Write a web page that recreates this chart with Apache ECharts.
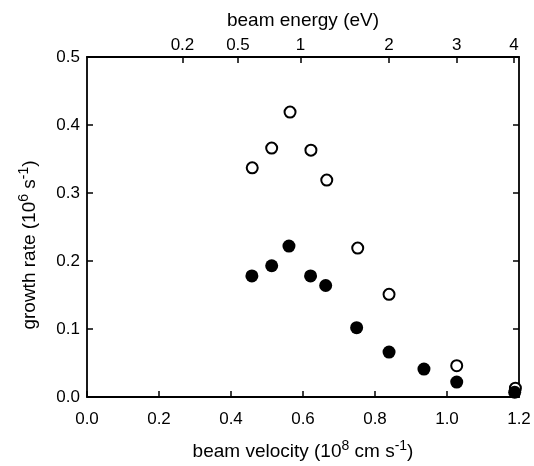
<!DOCTYPE html>
<html>
<head>
<meta charset="utf-8">
<script src="https://cdn.jsdelivr.net/npm/echarts@6/dist/echarts.min.js"></script>
<style>html,body{margin:0;padding:0;background:#fff}#c{width:534px;height:466px}</style>
</head>
<body>
<div id="c"></div>
<script>
// beam velocity (10^8 cm/s) and growth rate (10^6 /s)
const openVelocity  = [0.459, 0.513, 0.564, 0.622, 0.666, 0.752, 0.839, 1.027, 1.19];
const openRate      = [0.337, 0.366, 0.419, 0.363, 0.319, 0.219, 0.151, 0.046, 0.013];
const filledVelocity = [0.458, 0.513, 0.561, 0.621, 0.663, 0.749, 0.839, 0.936, 1.027, 1.188];
const filledRate     = [0.178, 0.193, 0.222, 0.178, 0.164, 0.102, 0.066, 0.041, 0.022, 0.007];
// top axis: beam energy (eV), E = K * v^2
const energyTicks = [0.2, 0.5, 1, 2, 3, 4];
const energyLabels = ['0.2', '0.5', '1', '2', '3', '4'];
const K = 2.843;

const energyPos = energyTicks.map(e => Math.sqrt(e / K));
const FONT = 'Liberation Sans';
const chart = echarts.init(document.getElementById('c'));
const axisCommon = {
  axisLine: { show: true, onZero: false, lineStyle: { color: '#000', width: 1.8 } },
  axisTick: { show: true, inside: true, length: 6, lineStyle: { color: '#000', width: 1.5 } },
  splitLine: { show: false },
  axisLabel: { color: '#000', fontFamily: FONT, fontSize: 17 }
};
const richSup = {
  n: { fontFamily: FONT, fontSize: 19, color: '#000' },
  s: { fontFamily: FONT, fontSize: 14, color: '#000', padding: [0, 0, 11, 0] }
};
chart.setOption({
  animation: false,
  grid: { left: 87, right: 15, top: 57, bottom: 69 },
  xAxis: [
    Object.assign({}, axisCommon, {
      type: 'value', min: 0, max: 1.2, interval: 0.2, position: 'bottom',
      axisLabel: Object.assign({}, axisCommon.axisLabel, { margin: 14, formatter: v => v.toFixed(1) }),
      name: '{n|beam velocity (10}{s|8}{n| cm s}{s|-1}{n|)}',
      nameLocation: 'middle', nameGap: 42,
      nameTextStyle: { rich: richSup }
    }),
    Object.assign({}, axisCommon, {
      type: 'value', min: 0, max: 1.2, position: 'top',
      axisTick: Object.assign({}, axisCommon.axisTick, { customValues: energyPos }),
      axisLabel: Object.assign({}, axisCommon.axisLabel, {
        margin: 3, customValues: energyPos,
        formatter: v => {
          const i = energyPos.findIndex(p => Math.abs(p - v) < 1e-6);
          return i >= 0 ? energyLabels[i] : '';
        }
      }),
      name: 'beam energy (eV)', nameLocation: 'middle', nameGap: 27,
      nameTextStyle: { fontFamily: FONT, fontSize: 19, color: '#000' }
    })
  ],
  yAxis: [
    Object.assign({}, axisCommon, {
      type: 'value', min: 0, max: 0.5, interval: 0.1, position: 'left',
      axisLabel: Object.assign({}, axisCommon.axisLabel, { margin: 7, formatter: v => v.toFixed(1) }),
      name: '{n|growth rate (10}{s|6}{n| s}{s|-1}{n|)}',
      nameLocation: 'middle', nameGap: 45, nameRotate: 90,
      nameTextStyle: { rich: richSup, padding: [0, 36, 0, 0] }
    }),
    Object.assign({}, axisCommon, {
      type: 'value', min: 0, max: 0.5, interval: 0.1, position: 'right',
      axisLabel: { show: false }
    })
  ],
  series: [
    {
      type: 'scatter', xAxisIndex: 0, yAxisIndex: 0, clip: false,
      data: openVelocity.map((v, i) => [v, openRate[i]]),
      symbol: 'circle', symbolSize: 11,
      itemStyle: { color: '#fff', borderColor: '#000', borderWidth: 2, opacity: 1 }
    },
    {
      type: 'scatter', xAxisIndex: 0, yAxisIndex: 0, clip: false,
      data: filledVelocity.map((v, i) => [v, filledRate[i]]),
      symbol: 'circle', symbolSize: 13,
      itemStyle: { color: '#000', opacity: 1 }
    }
  ]
});
</script>
</body>
</html>
